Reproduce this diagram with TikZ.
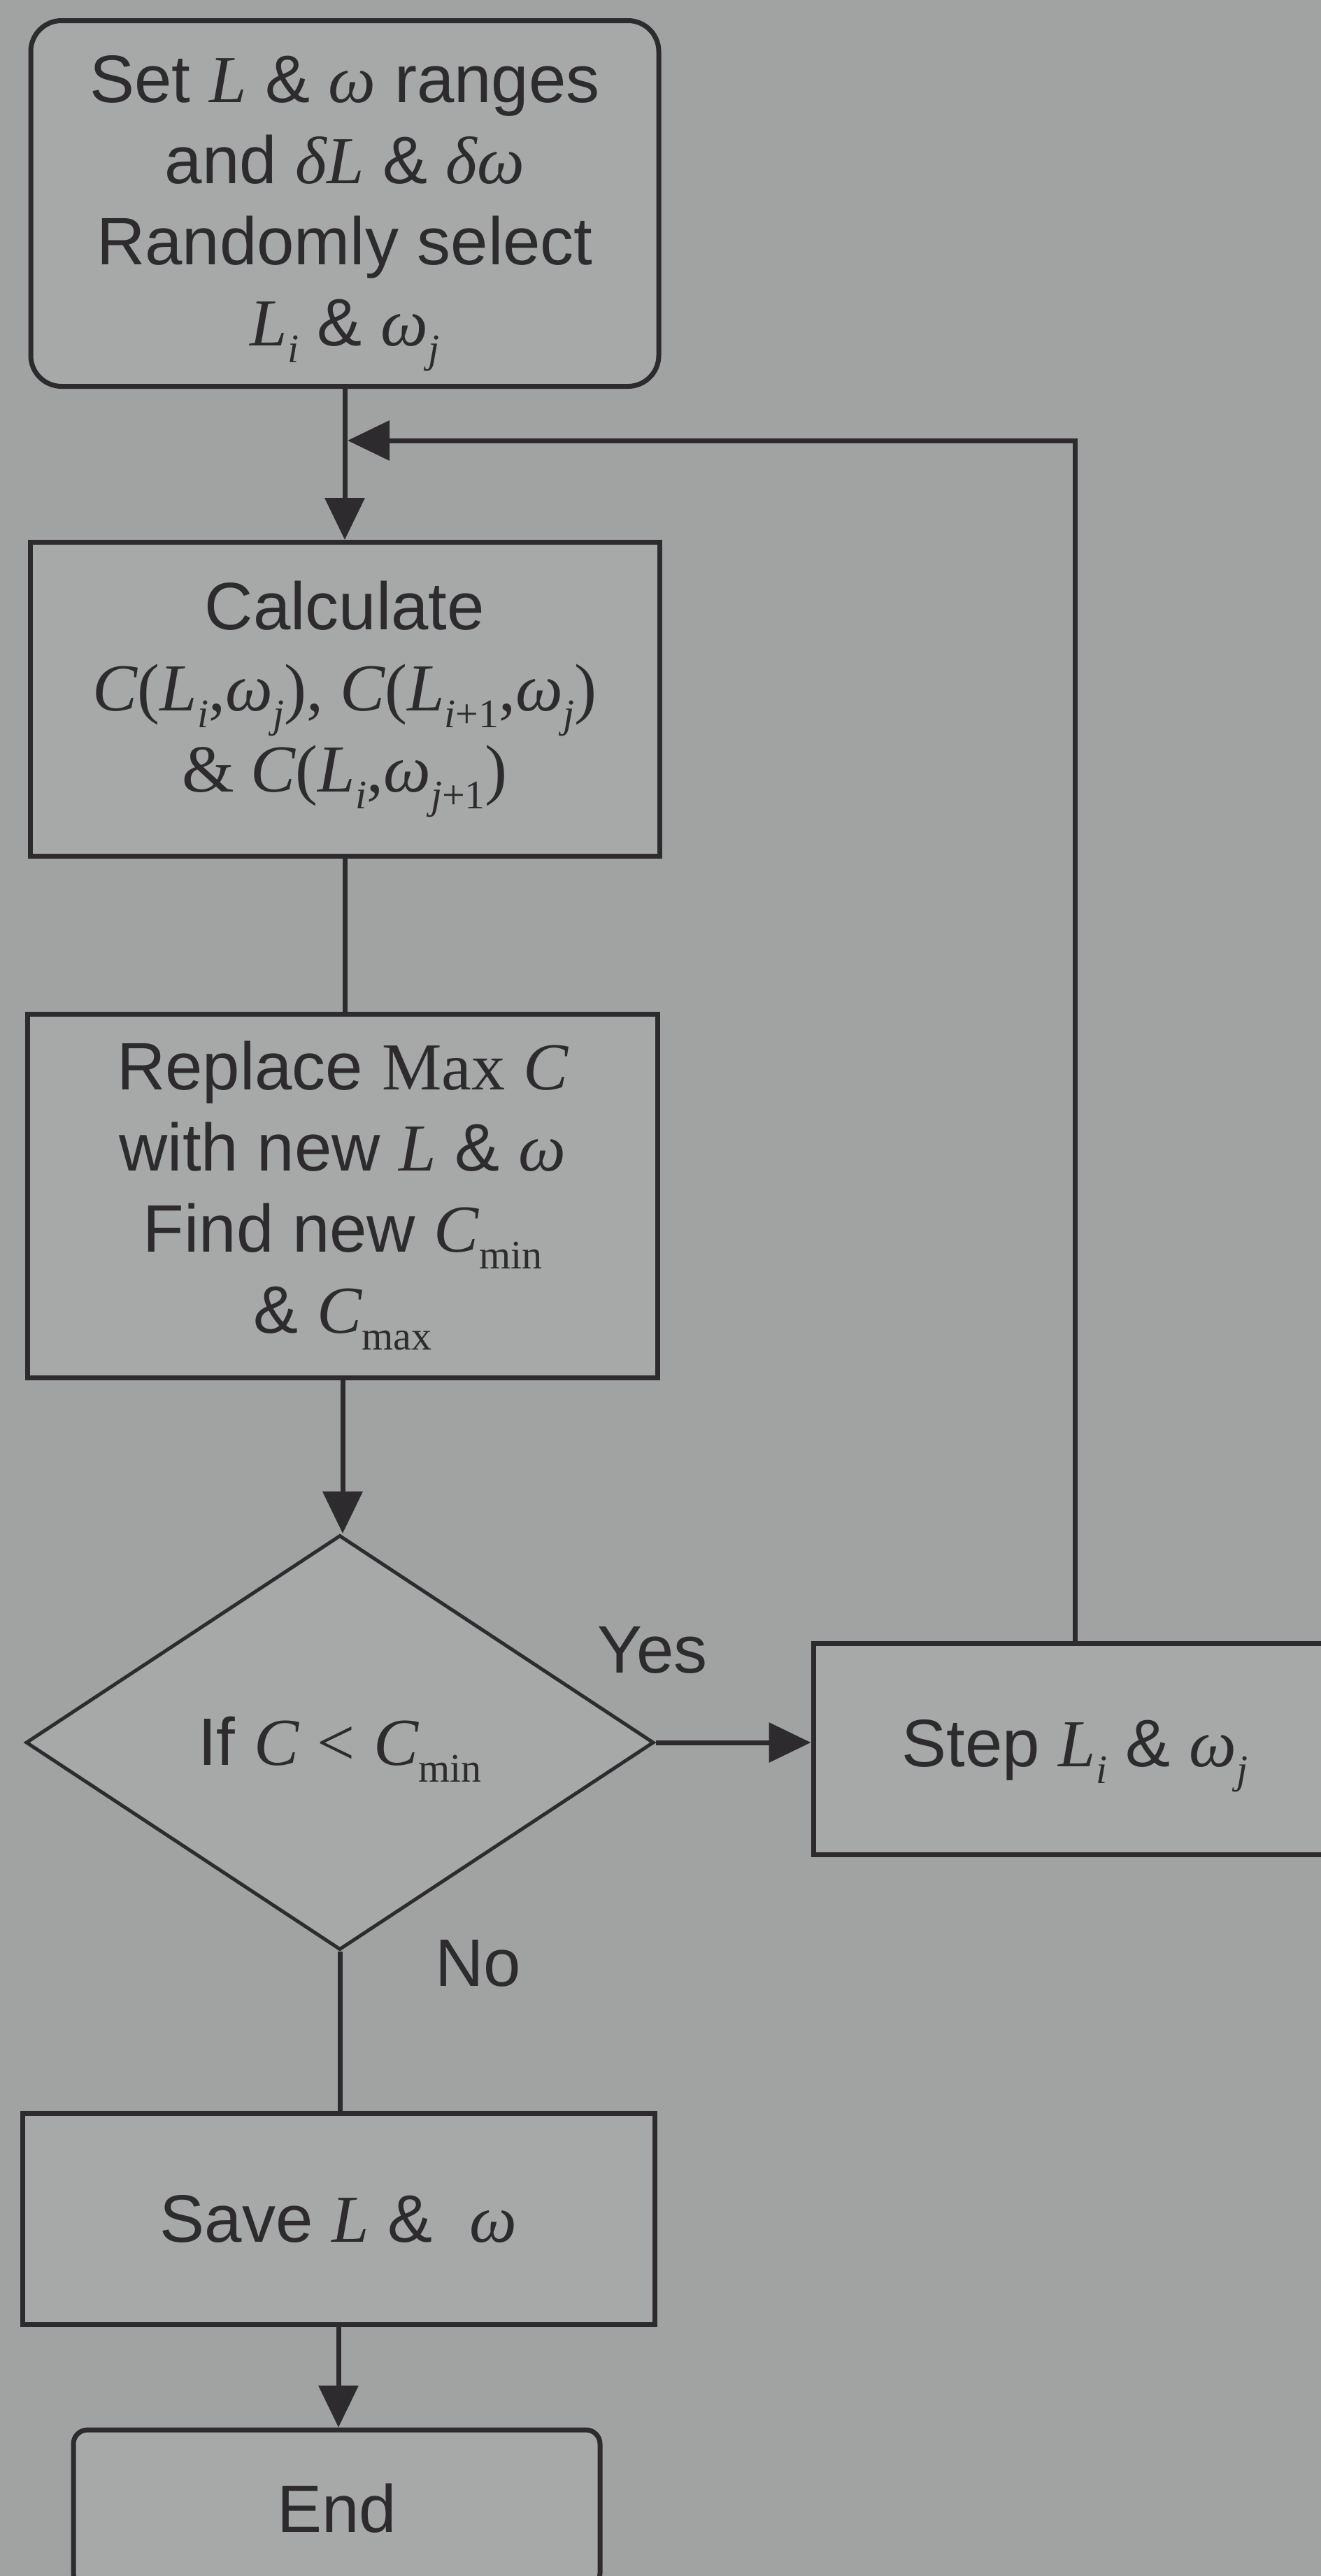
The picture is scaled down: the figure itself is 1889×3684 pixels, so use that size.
\documentclass[tikz,border=0pt]{standalone}
\usepackage{fontspec}
\setmainfont{Liberation Sans}
\newfontfamily\tms{Liberation Serif}
\usetikzlibrary{arrows.meta,shapes.geometric}
\definecolor{bg}{RGB}{161,163,163}
\definecolor{boxfill}{RGB}{167,169,169}
\definecolor{ink}{RGB}{45,43,45}
\newcommand{\tv}[1]{{\tms\itshape #1}}
\newcommand{\tr}[1]{{\tms #1}}
\newcommand{\lo}[1]{\raisebox{-0.25em}{\fontsize{29}{29}\selectfont #1}}
\begin{document}
\begin{tikzpicture}[x=0.5pt,y=-0.5pt,
  ln/.style={draw=ink, line width=3.5pt},
  arr/.style={ln, -{Triangle[length=30pt,width=28pt]}},
  box/.style={draw=ink, line width=3.5pt, fill=boxfill, inner sep=0pt, align=center, text=ink, font=\fontsize{48}{58}\selectfont},
  dia/.style={box, shape=diamond, line width=2.5pt},
  lbl/.style={inner sep=0pt, text=ink, font=\fontsize{48}{58}\selectfont}]
\useasboundingbox (0,0) rectangle (1889,3684);
\clip (0,0) rectangle (1889,3684);
\fill[bg] (0,0) rectangle (1889,3684);

\node[box, rounded corners=22pt, minimum width=449pt, minimum height=261.5pt] (start) at (493,291)
  {\rule{0pt}{48pt}Set \tv{L} \& \tv{ω} ranges\\ and \tv{δL} \& \tv{δω}\\ Randomly select\\ \tv{L}\lo{\tv{i}} \& \tv{ω}\lo{\tv{j}}};
\node[box, minimum width=450pt, minimum height=224.5pt] (calc) at (493,1000)
  {Calculate\\ \tr{\tv{C}(\tv{L}\lo{\tv{i}},\tv{ω}\lo{\tv{j}}), \tv{C}(\tv{L}\lo{\tv{i}+1},\tv{ω}\lo{\tv{j}})}\\ \tr{\& \tv{C}(\tv{L}\lo{\tv{i}},\tv{ω}\lo{\tv{j}+1})}};
\node[box, minimum width=450.5pt, minimum height=260pt] (repl) at (490,1710)
  {Replace \tr{Max} \tv{C}\\ with new \tv{L} \& \tv{ω}\\ Find new \tv{C}\lo{\tr{min}}\\ \& \tv{C}\lo{\tr{max}}};
\node[dia, minimum width=449pt, minimum height=296.5pt] (dec) at (486,2492)
  {\rule{0pt}{44pt}If \tv{C} \tr{<} \tv{C}\lo{\tr{min}}};
\node[box, minimum width=374pt, minimum height=151pt] (stepbox) at (1537,2501)
  {\rule{0pt}{44pt}Step \tv{L}\lo{\tv{i}} \& \tv{ω}\lo{\tv{j}}};
\node[box, minimum width=452pt, minimum height=151pt] (save) at (484,3173)
  {Save \tv{L} \&\ \ \tv{ω}};
\node[box, rounded corners=10pt, minimum width=376.5pt, minimum height=112.5pt] (end) at (481.5,3587.5)
  {End};

\node[lbl] (yes) at (933,2360) {Yes};
\node[lbl] (no) at (684,2808) {No};

\coordinate (join) at (497,630);
\draw[arr] (start.south) -- (start.south |- calc.north);
\draw[ln] (calc.south) -- (calc.south |- repl.north);
\draw[arr] (repl.south) -- (repl.south |- dec.north);
\draw[arr] (dec.east) -- (dec.east -| stepbox.west);
\draw[arr] (stepbox.north) |- (join);
\draw[ln] (dec.south) -- (dec.south |- save.north);
\draw[arr] (save.south) -- (save.south |- end.north);
\end{tikzpicture}
\end{document}
